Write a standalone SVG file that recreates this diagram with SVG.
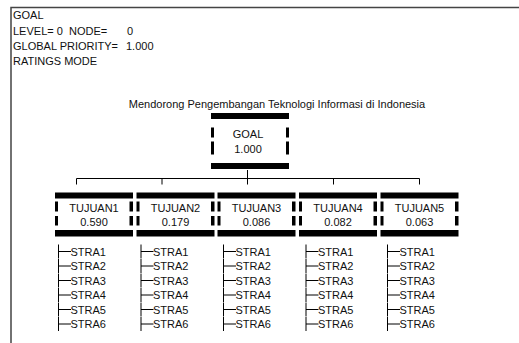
<svg xmlns="http://www.w3.org/2000/svg" width="519" height="343" viewBox="0 0 519 343">
<style>
text{font-family:"Liberation Sans",Arial,sans-serif;font-size:11px;fill:#111}
.c{text-anchor:middle}
.bar{fill:#000}
.ln{stroke:#000;stroke-width:1;fill:none}
.fr{stroke:#444;stroke-width:1.5;fill:none}
</style>
<defs>
<g id="tree">
<path class="ln" d="M0.5,-7V7M0.5,0H13"/>
</g>
<g id="box">
<rect class="bar" x="0" y="0" width="78" height="6"/>
<rect class="bar" x="0" y="37.5" width="78" height="6.5"/>
<rect class="bar" x="0" y="9" width="3" height="10"/>
<rect class="bar" x="0" y="23.5" width="3" height="9.5"/>
<rect class="bar" x="74.5" y="9" width="3.5" height="10"/>
<rect class="bar" x="74.5" y="23.5" width="3.5" height="9.5"/>
</g>
<g id="list">
<use href="#tree" y="251.5"/><use href="#tree" y="266"/><use href="#tree" y="280.5"/>
<use href="#tree" y="295"/><use href="#tree" y="309.5"/><use href="#tree" y="324"/>
<text x="12.5" y="255.5">STRA1</text>
<text x="12.5" y="270">STRA2</text>
<text x="12.5" y="284.5">STRA3</text>
<text x="12.5" y="299">STRA4</text>
<text x="12.5" y="313.5">STRA5</text>
<text x="12.5" y="328">STRA6</text>
</g>
</defs>
<rect width="519" height="343" fill="#fff"/>
<path class="fr" d="M11,343V7.5H519"/>
<g id="header">
<text x="13" y="19">GOAL</text>
<text x="13" y="35">LEVEL= 0</text>
<text x="69" y="35">NODE=</text>
<text x="127" y="35">0</text>
<text x="13" y="49.5">GLOBAL PRIORITY=</text>
<text x="126" y="49.5">1.000</text>
<text x="13" y="65">RATINGS MODE</text>
</g>
<text class="c" x="277" y="108">Mendorong Pengembangan Teknologi Informasi di Indonesia</text>
<g id="connectors">
<path class="ln" d="M247.5,170V184.5M76.5,184.5V178.5H419.5V184.5M162,178.5V184.5M333.5,178.5V184.5"/>
</g>
<g id="goal">
<rect class="bar" x="211" y="113" width="78" height="6"/>
<rect class="bar" x="211" y="163" width="78" height="6"/>
<rect class="bar" x="211" y="127.5" width="3" height="10"/>
<rect class="bar" x="211" y="141.5" width="3" height="13"/>
<rect class="bar" x="286" y="127.5" width="3" height="10"/>
<rect class="bar" x="286" y="141.5" width="3" height="13"/>
<text class="c" x="248" y="137.5">GOAL</text>
<text class="c" x="248" y="153">1.000</text>
</g>
<g id="tujuan1">
<use href="#box" x="55" y="192.5"/>
<text class="c" x="94" y="211.5">TUJUAN1</text>
<text class="c" x="94" y="226">0.590</text>
<use href="#list" x="58"/>
</g>
<g id="tujuan2">
<use href="#box" x="136.5" y="192.5"/>
<text class="c" x="175.5" y="211.5">TUJUAN2</text>
<text class="c" x="175.5" y="226">0.179</text>
<use href="#list" x="140.5"/>
</g>
<g id="tujuan3">
<use href="#box" x="217.5" y="192.5"/>
<text class="c" x="256.5" y="211.5">TUJUAN3</text>
<text class="c" x="256.5" y="226">0.086</text>
<use href="#list" x="223"/>
</g>
<g id="tujuan4">
<use href="#box" x="299" y="192.5"/>
<text class="c" x="338" y="211.5">TUJUAN4</text>
<text class="c" x="338" y="226">0.082</text>
<use href="#list" x="305.5"/>
</g>
<g id="tujuan5">
<use href="#box" x="380.5" y="192.5"/>
<text class="c" x="419.5" y="211.5">TUJUAN5</text>
<text class="c" x="419.5" y="226">0.063</text>
<use href="#list" x="387"/>
</g>
</svg>
